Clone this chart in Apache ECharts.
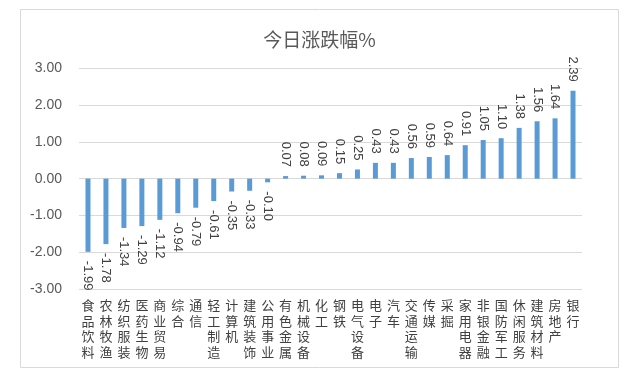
<!DOCTYPE html>
<html>
<head>
<meta charset="utf-8">
<script src="https://cdn.jsdelivr.net/npm/echarts@6/dist/echarts.min.js"></script>
<style>
html,body{margin:0;padding:0;background:#fff;}
#chart{width:639px;height:381px;}
</style>
</head>
<body>
<div id="chart"></div>
<script>
const categories = ['食品饮料','农林牧渔','纺织服装','医药生物','商业贸易','综合','通信','轻工制造','计算机','建筑装饰','公用事业','有色金属','机械设备','化工','钢铁','电气设备','电子','汽车','交通运输','传媒','采掘','家用电器','非银金融','国防军工','休闲服务','建筑材料','房地产','银行'];
const values = [-1.99,-1.78,-1.34,-1.29,-1.12,-0.94,-0.79,-0.61,-0.35,-0.33,-0.10,0.07,0.08,0.09,0.15,0.25,0.43,0.43,0.56,0.59,0.64,0.91,1.05,1.10,1.38,1.56,1.64,2.39];
const yMin = -3, yMax = 3, yStep = 1;
const title = '今日涨跌幅%';

const chart = echarts.init(document.getElementById('chart'));
const numFont = '"Liberation Sans", Arial, sans-serif';
const cjkFont = '"Noto Sans CJK SC", sans-serif';

const data = values.map(v => ({
  value: v,
  label: v >= 0
    ? { position: 'top', align: 'right', verticalAlign: 'middle' }
    : { position: 'bottom', align: 'left', verticalAlign: 'middle' }
}));

chart.setOption({
  animation: false,
  backgroundColor: '#fff',
  title: {
    text: title,
    left: 'center',
    top: 25,
    textStyle: { color: '#595959', fontSize: 19, fontWeight: 'normal', fontFamily: cjkFont }
  },
  graphic: [{
    type: 'rect',
    shape: { x: 20.5, y: 9.5, width: 598, height: 358 },
    style: { fill: 'none', stroke: '#d9d9d9', lineWidth: 1 },
    silent: true
  }],
  grid: { left: 79, top: 68.3, width: 503, height: 220.7, containLabel: false },
  xAxis: {
    type: 'category',
    data: categories,
    axisLine: { show: false },
    axisTick: { show: false },
    axisLabel: {
      interval: 0,
      margin: 8,
      color: '#404040',
      fontSize: 13,
      lineHeight: 15.8,
      fontFamily: cjkFont,
      formatter: s => s.split('').join('\n')
    }
  },
  yAxis: {
    type: 'value',
    min: yMin, max: yMax, interval: yStep,
    axisLine: { show: false },
    axisTick: { show: false },
    splitLine: { lineStyle: { color: '#d9d9d9', width: 1 } },
    axisLabel: {
      margin: 17,
      color: '#595959',
      fontSize: 14,
      fontFamily: numFont,
      formatter: v => v.toFixed(2)
    }
  },
  series: [{
    type: 'bar',
    data: data,
    barWidth: 5,
    itemStyle: { color: '#5B9BD5' },
    label: {
      show: true,
      rotate: -90,
      distance: 9,
      color: '#404040',
      fontSize: 13,
      fontFamily: numFont,
      formatter: p => p.value.toFixed(2)
    }
  }]
});
</script>
</body>
</html>
